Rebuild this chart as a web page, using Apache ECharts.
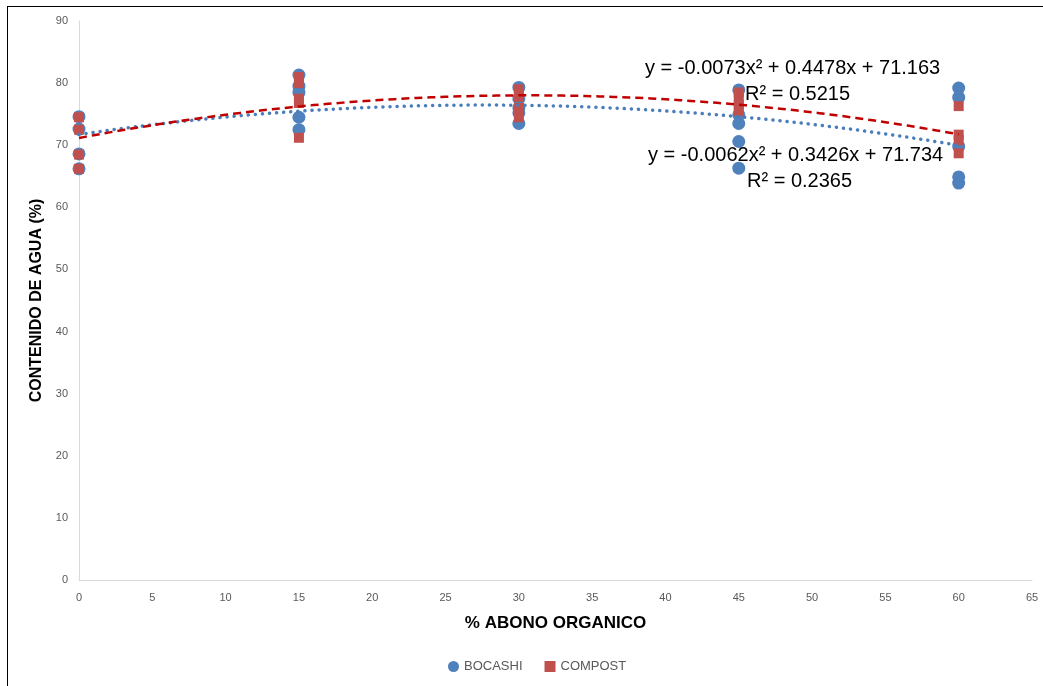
<!DOCTYPE html>
<html>
<head>
<meta charset="utf-8">
<script src="https://cdn.jsdelivr.net/npm/echarts@6/dist/echarts.min.js"></script>
<style>
html,body{margin:0;padding:0;background:#fff;}
#chart{width:1043px;height:686px;}
</style>
</head>
<body>
<div id="chart"></div>
<script>
// ---- data ----
const xTicks = [0,5,10,15,20,25,30,35,40,45,50,55,60,65];
const yTicks = [0,10,20,30,40,50,60,70,80,90];

const bocashiX = [0,0,0,0, 15,15,15,15,15, 30,30,30,30,30, 45,45,45,45,45, 60,60,60,60,60];
const bocashiY = [74.6,72.6,68.6,66.2, 81.3,79.5,78.5,74.5,72.5, 79.3,77.5,76.0,75.2,73.5, 78.9,74.9,73.5,70.6,66.3, 79.2,77.7,69.8,64.9,63.9];

const compostX = [0,0,0,0, 15,15,15,15,15, 30,30,30,30,30, 45,45,45,45, 60,60,60,60];
const compostY = [74.5,72.5,68.5,66.2, 81.0,80.0,77.5,76.8,71.2, 79.0,77.8,76.0,75.5,74.5, 78.5,77.5,76.5,75.5, 76.3,71.7,70.8,68.7];

// trendline coefficients shown on the chart: [a, b, c] for y = a x^2 + b x + c
const trendBocashi = [-0.0062, 0.3426, 71.734];
const trendCompost = [-0.0073, 0.4478, 71.163];
const trendRange = [0, 60];

const eqCompost = ['y = -0.0073x² + 0.4478x + 71.163', 'R² = 0.5215'];
const eqBocashi = ['y = -0.0062x² + 0.3426x + 71.734', 'R² = 0.2365'];

const seriesNames = ['BOCASHI', 'COMPOST'];
const xTitle = '% ABONO ORGANICO';
const yTitle = 'CONTENIDO DE AGUA (%)';

// ---- build ----
function pairs(xs, ys){ return xs.map((x,i)=>[x, ys[i]]); }
function curve(c){
  const pts = [];
  for (let x = trendRange[0]; x <= trendRange[1]; x += 0.5) pts.push([x, c[0]*x*x + c[1]*x + c[2]]);
  return pts;
}

const BLUE = '#4f81bd';
const RED = '#c0504d';
const labelFont = '"Liberation Sans Narrow", "Liberation Sans", sans-serif';
const eqFont = '"Liberation Sans", sans-serif';

const chart = echarts.init(document.getElementById('chart'));
chart.setOption({
  animation: false,
  backgroundColor: '#fff',
  grid: { left: 79, right: 11, top: 21, bottom: 106, containLabel: false },
  xAxis: {
    type: 'value', min: 0, max: 65, interval: 5,
    name: xTitle, nameLocation: 'middle', nameGap: 35,
    nameTextStyle: { fontFamily: labelFont, fontWeight: 'bold', fontSize: 17, color: '#000' },
    axisLine: { show: true, lineStyle: { color: '#d9d9d9', width: 1 } },
    axisTick: { show: false },
    splitLine: { show: false },
    axisLabel: { fontFamily: labelFont, fontSize: 11, color: '#595959', margin: 12,
      formatter: v => xTicks.includes(v) ? String(v) : '' }
  },
  yAxis: {
    type: 'value', min: 0, max: 90, interval: 10,
    name: yTitle, nameLocation: 'middle', nameGap: 29, nameRotate: 90,
    nameTextStyle: { fontFamily: labelFont, fontWeight: 'bold', fontSize: 16, color: '#000' },
    axisLine: { show: true, lineStyle: { color: '#d9d9d9', width: 1 } },
    axisTick: { show: false },
    splitLine: { show: false },
    axisLabel: { fontFamily: labelFont, fontSize: 11, color: '#595959', margin: 11,
      formatter: v => yTicks.includes(v) ? String(v) : '' }
  },
  legend: {
    data: [{ name: seriesNames[0], icon: 'circle' }, { name: seriesNames[1], icon: 'rect' }],
    bottom: 8, left: 443,
    itemWidth: 11, itemHeight: 11, itemGap: 22,
    textStyle: { fontFamily: labelFont, fontSize: 13, color: '#595959' }
  },
  series: [
    {
      name: seriesNames[0], type: 'scatter', data: pairs(bocashiX, bocashiY),
      symbol: 'circle', symbolSize: 13, itemStyle: { color: BLUE, opacity: 1 }, z: 3
    },
    {
      name: seriesNames[1], type: 'scatter', data: pairs(compostX, compostY),
      symbol: 'rect', symbolSize: [10, 10], itemStyle: { color: RED, opacity: 1 }, z: 4
    },
    {
      name: 'trendB', type: 'line', data: curve(trendBocashi), showSymbol: false, symbol: 'none',
      smooth: false, lineStyle: { color: '#4a7ebb', width: 3.5, type: [0.1, 7], cap: 'round' }, z: 5, silent: true
    },
    {
      name: 'trendC', type: 'line', data: curve(trendCompost), showSymbol: false, symbol: 'none',
      smooth: false, lineStyle: { color: '#c00000', width: 2.5, type: [8, 5] }, z: 6, silent: true
    }
  ],
  graphic: [
    { type: 'line', shape: { x1: 7.5, y1: 6, x2: 7.5, y2: 686 }, style: { stroke: '#000', lineWidth: 1 } },
    { type: 'line', shape: { x1: 7, y1: 6.5, x2: 1043, y2: 6.5 }, style: { stroke: '#000', lineWidth: 1 } },
    { type: 'text', left: 645, top: 58, z: 10, style: { text: eqCompost[0], font: '20px ' + eqFont, fill: '#000' } },
    { type: 'text', left: 745, top: 84, z: 10, style: { text: eqCompost[1], font: '20px ' + eqFont, fill: '#000' } },
    { type: 'text', left: 648, top: 145, z: 10, style: { text: eqBocashi[0], font: '20px ' + eqFont, fill: '#000' } },
    { type: 'text', left: 747, top: 171, z: 10, style: { text: eqBocashi[1], font: '20px ' + eqFont, fill: '#000' } }
  ]
});
</script>
</body>
</html>
